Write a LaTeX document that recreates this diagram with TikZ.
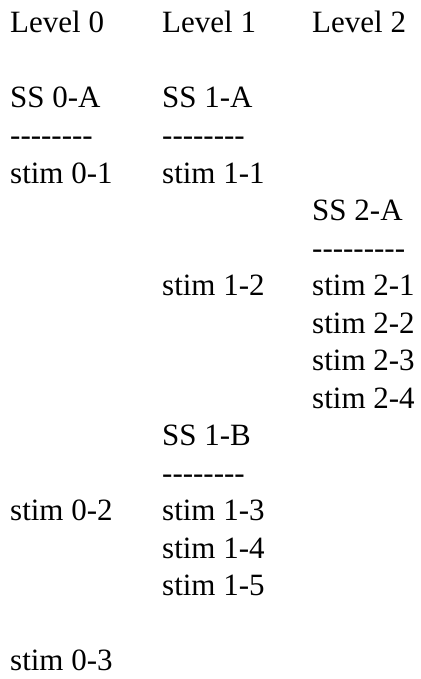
\documentclass[tikz,border=0pt]{standalone}
\usepackage{fontspec}
\setmainfont{Liberation Serif}
\usepackage{tikz}
\usetikzlibrary{positioning}

\begin{document}
\begin{tikzpicture}[x=1pt, y=-1pt,
  entry/.style={anchor=base west, inner sep=0pt, font=\fontsize{31}{37}\selectfont}]
  \useasboundingbox (0,0) rectangle (420,679);

  % Level headings
  \node[entry] (lev0) at (10, 33) {Level 0};
  \node[entry] (lev1) at (162, 33) {Level 1};
  \node[entry] (lev2) at (312, 33) {Level 2};

  % Level 0
  \node[entry] (ss0a) at (10, 108) {SS 0-A};
  \node[entry] (rule0a) at (10, 145.5) {-{}-{}-{}-{}-{}-{}-{}-};
  \node[entry] (st01) at (10, 183) {stim 0-1};
  \node[entry] (st02) at (10, 520.5) {stim 0-2};
  \node[entry] (st03) at (10, 670.5) {stim 0-3};

  % Level 1
  \node[entry] (ss1a) at (162, 108) {SS 1-A};
  \node[entry] (rule1a) at (162, 145.5) {-{}-{}-{}-{}-{}-{}-{}-};
  \node[entry] (st11) at (162, 183) {stim 1-1};
  \node[entry] (st12) at (162, 295.5) {stim 1-2};
  \node[entry] (ss1b) at (162, 445.5) {SS 1-B};
  \node[entry] (rule1b) at (162, 483) {-{}-{}-{}-{}-{}-{}-{}-};
  \node[entry] (st13) at (162, 520.5) {stim 1-3};
  \node[entry] (st14) at (162, 558) {stim 1-4};
  \node[entry] (st15) at (162, 595.5) {stim 1-5};

  % Level 2
  \node[entry] (ss2a) at (312, 220.5) {SS 2-A};
  \node[entry] (rule2a) at (312, 258) {-{}-{}-{}-{}-{}-{}-{}-{}-};
  \node[entry] (st21) at (312, 295.5) {stim 2-1};
  \node[entry] (st22) at (312, 333) {stim 2-2};
  \node[entry] (st23) at (312, 370.5) {stim 2-3};
  \node[entry] (st24) at (312, 408) {stim 2-4};
\end{tikzpicture}
\end{document}
